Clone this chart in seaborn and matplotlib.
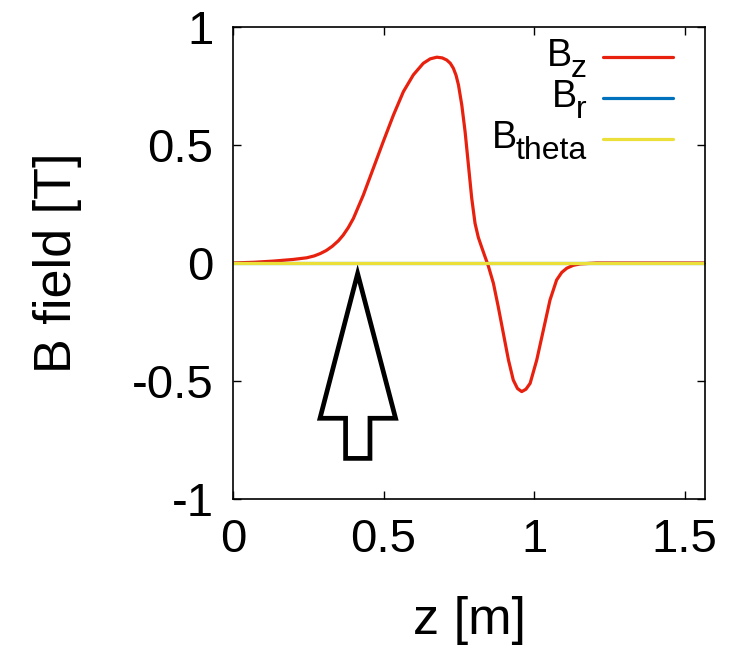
import numpy as np
import pandas as pd
import seaborn as sns
import matplotlib.pyplot as plt
from matplotlib.patches import Polygon

# field values (z in m, B in T)
bz_z = [0.0, 0.07, 0.134, 0.2, 0.245, 0.27, 0.29, 0.31, 0.33, 0.35, 0.366,
        0.383, 0.40, 0.433, 0.466, 0.499, 0.533, 0.566, 0.599, 0.632, 0.655,
        0.677, 0.695, 0.710, 0.722, 0.732, 0.741, 0.749, 0.760, 0.771, 0.782,
        0.793, 0.804, 0.815, 0.826, 0.837, 0.848, 0.865, 0.881, 0.898, 0.915,
        0.931, 0.945, 0.959, 0.973, 0.987, 1.009, 1.031, 1.053, 1.075, 1.092,
        1.109, 1.13, 1.153, 1.208, 1.35, 1.568]
bz = [0.0, 0.003, 0.008, 0.015, 0.022, 0.030, 0.040, 0.053, 0.071, 0.094, 0.118,
      0.150, 0.189, 0.288, 0.401, 0.514, 0.627, 0.726, 0.797, 0.846, 0.865,
      0.872, 0.869, 0.860, 0.846, 0.825, 0.795, 0.754, 0.669, 0.556, 0.415,
      0.274, 0.168, 0.108, 0.067, 0.027, -0.012, -0.086, -0.185, -0.298, -0.411,
      -0.496, -0.532, -0.545, -0.535, -0.51, -0.411, -0.284, -0.157, -0.072, -0.040,
      -0.022, -0.010, -0.004, 0.0, 0.0, 0.0]
br_z = [0.0, 1.568]
br = [0.0, 0.0]
bt_z = [0.0, 1.568]
bt = [0.0, 0.0]

# legend names: base letter and subscript
leg_base = "B"
leg_subs = ["z", "r", "theta"]

# arrow outline (annotation), in data units
arrow_x = [0.414, 0.540, 0.455, 0.455, 0.374, 0.374, 0.289]
arrow_y = [-0.045, -0.658, -0.658, -0.828, -0.828, -0.658, -0.658]

xticks = [0, 0.5, 1, 1.5]
yticks = [-1, -0.5, 0, 0.5, 1]

sns.set_style("ticks")
plt.rcParams['font.family'] = ['Liberation Sans', 'DejaVu Sans']
plt.rcParams['mathtext.fontset'] = 'custom'
plt.rcParams['mathtext.rm'] = 'Liberation Sans'
plt.rcParams['mathtext.default'] = 'regular'
plt.rcParams['text.color'] = 'black'
plt.rcParams['axes.labelcolor'] = 'black'
plt.rcParams['xtick.color'] = 'black'
plt.rcParams['ytick.color'] = 'black'

fig = plt.figure(figsize=(7.43, 6.63), dpi=100)
ax = fig.add_axes([0.3136, 0.2474, 0.6353, 0.7119])

cols = ["#e8200e", "#0072bd", "#ebe03a"]
for (zz, bb), c, s in zip([(bz_z, bz), (br_z, br), (bt_z, bt)], cols, leg_subs):
    sns.lineplot(x=zz, y=bb, ax=ax, color=c, lw=2.3, label=leg_base + "$_{" + s + "}$")

ax.add_patch(Polygon(list(zip(arrow_x, arrow_y)), closed=True, fill=False,
                     edgecolor="black", lw=3.4, joinstyle="miter"))

ax.set_xlim(0, 1.568)
ax.set_ylim(-1, 1)
ax.set_xticks(xticks)
ax.set_yticks(yticks)
ax.set_xticklabels(["0", "0.5", "1", "1.5"])
ax.set_yticklabels(["-1", "-0.5", "0", "0.5", "1"])
ax.tick_params(direction="in", length=6, width=1, top=True, right=True,
               labelsize=34, pad=14)
for s in ax.spines.values():
    s.set_linewidth(1.2)
    s.set_color("black")

ax.set_xlabel("z [m]", fontsize=37.5, labelpad=24)
ax.set_ylabel("B field [T]", fontsize=37.5, labelpad=36)

leg = ax.legend(loc="upper right", bbox_to_anchor=(0.932, 0.968), frameon=False,
                markerfirst=False, fontsize=27, handlelength=1.87, handletextpad=0.0,
                labelspacing=0.13, borderpad=0.0, borderaxespad=0.0)
# plain "B" keeps the row height fixed; the labels are then drawn with a bigger subscript
for t in leg.get_texts():
    t.set_text(leg_base)
fig.canvas.draw()
rend = fig.canvas.get_renderer()
for t, h, s in zip(leg.get_texts(), leg.legend_handles, leg_subs):
    t.set_visible(False)
    hb = h.get_window_extent(rend)
    yc = (hb.y0 + hb.y1) / 2
    st = fig.text(hb.x0 - 16, yc - 20, s, ha="right", va="baseline",
                  fontsize=23, transform=None)
    sb = st.get_window_extent(rend)
    fig.text(sb.x0 + 1, yc - 9.3, leg_base, ha="right", va="baseline",
             fontsize=27, transform=None)

fig.savefig("out.png", dpi=100)
